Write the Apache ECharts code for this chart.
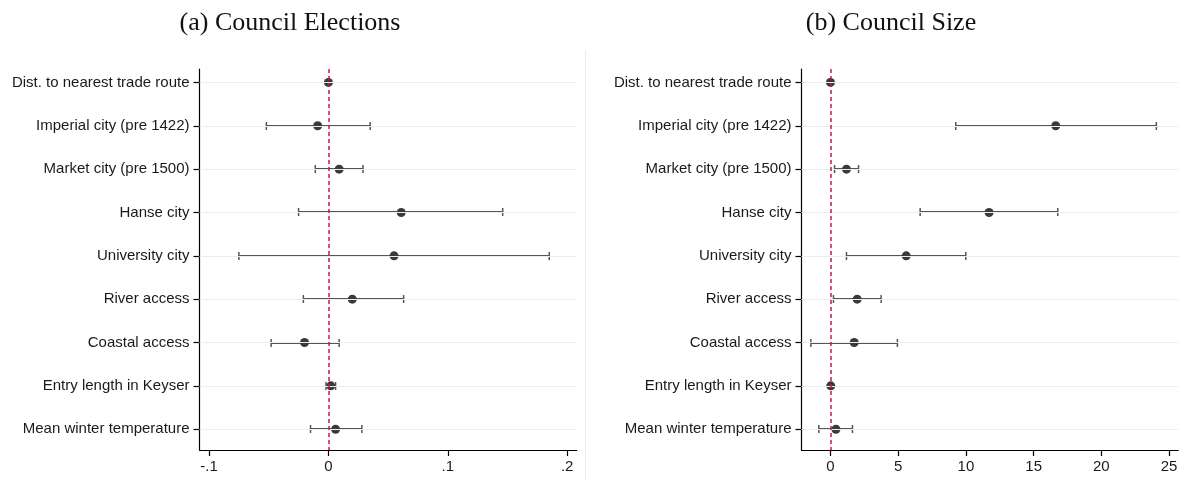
<!DOCTYPE html>
<html>
<head>
<meta charset="utf-8">
<script src="https://cdn.jsdelivr.net/npm/echarts@6/dist/echarts.min.js"></script>
<style>
  html, body { margin: 0; padding: 0; background: #fff; }
  #chart { width: 1187px; height: 480px; }
</style>
</head>
<body>
<div id="chart"></div>
<script>
// Covariates, listed top to bottom
const categories = [
  'Dist. to nearest trade route',
  'Imperial city (pre 1422)',
  'Market city (pre 1500)',
  'Hanse city',
  'University city',
  'River access',
  'Coastal access',
  'Entry length in Keyser',
  'Mean winter temperature'
];

// (a) Council Elections: point estimates and 95% CI bounds
const estA = [0.000, -0.009, 0.009, 0.061, 0.055, 0.020, -0.020, 0.002, 0.006];
const loA  = [-0.0004, -0.052, -0.011, -0.025, -0.075, -0.021, -0.048, -0.002, -0.015];
const hiA  = [0.0004, 0.035, 0.029, 0.146, 0.185, 0.063, 0.009, 0.006, 0.028];

// (b) Council Size: point estimates and 95% CI bounds
const estB = [0.00, 16.63, 1.18, 11.71, 5.59, 1.97, 1.75, 0.02, 0.40];
const loB  = [-0.03, 9.25, 0.30, 6.62, 1.18, 0.22, -1.45, -0.02, -0.86];
const hiB  = [0.03, 24.06, 2.07, 16.78, 9.99, 3.74, 4.94, 0.06, 1.62];

// Tick positions on the coefficient axes
const ticksA = [-0.1, 0, 0.1, 0.2];
const ticksB = [0, 5, 10, 15, 20, 25];

const rows = categories.map((_, i) => i + 1);

const chart = echarts.init(document.getElementById('chart'), null, { renderer: 'canvas' });

const labelFont = { fontFamily: 'Liberation Sans, Arial, sans-serif', fontSize: 15, color: '#1a1a1a' };
const axisLine = { show: true, onZero: false, lineStyle: { color: '#000', width: 1.2 } };
const axisTick = { show: true, length: 6, lineStyle: { color: '#000', width: 1.2 } };

function fmtA(v) {
  if (Math.abs(v) < 1e-9) return '0';
  return (v < 0 ? '-' : '') + String(Math.abs(v)).replace(/^0/, '');
}

function yAxisFor(gridIndex) {
  return {
    type: 'value', gridIndex, inverse: true, min: 0.69, max: 9.48,
    axisLine, splitLine: { show: false },
    axisTick: Object.assign({ customValues: rows }, axisTick),
    axisLabel: Object.assign({
      customValues: rows, margin: 10,
      formatter: v => categories[Math.round(v) - 1] || ''
    }, labelFont)
  };
}

function barStyle() {
  return { stroke: '#555', lineWidth: 2, fill: null, opacity: 1 };
}

function errorBars(lo, hi, axisIdx) {
  return {
    type: 'custom', xAxisIndex: axisIdx, yAxisIndex: axisIdx, z: 3, silent: true,
    data: lo.map((l, i) => [l, hi[i], i + 1]),
    encode: { x: [0, 1], y: 2 },
    renderItem: function (params, api) {
      const yv = api.value(2);
      const a = api.coord([api.value(0), yv]);
      const b = api.coord([api.value(1), yv]);
      const y = Math.round(a[1]);
      const h = 4;
      return {
        type: 'group',
        children: [
          { type: 'line', shape: { x1: a[0], y1: y, x2: b[0], y2: y }, style: barStyle() },
          { type: 'line', shape: { x1: a[0], y1: y - h, x2: a[0], y2: y + h }, style: Object.assign(barStyle(), { lineWidth: 1.5 }) },
          { type: 'line', shape: { x1: b[0], y1: y - h, x2: b[0], y2: y + h }, style: Object.assign(barStyle(), { lineWidth: 1.5 }) }
        ]
      };
    }
  };
}

function points(est, axisIdx) {
  return {
    type: 'scatter', xAxisIndex: axisIdx, yAxisIndex: axisIdx, z: 4, silent: true,
    symbol: 'circle', symbolSize: 9,
    itemStyle: { color: '#3a3a3a', opacity: 1 },
    data: est.map((v, i) => [v, i + 1])
  };
}

// Horizontal row guides and the dashed zero reference line
function guides(axisIdx) {
  return {
    type: 'line', xAxisIndex: axisIdx, yAxisIndex: axisIdx, z: 1, silent: true,
    data: [],
    markLine: {
      silent: true, symbol: 'none', label: { show: false },
      data: rows.map(r => ({ yAxis: r, lineStyle: { color: '#e6eff1', type: 'solid', width: 1 } }))
        .concat([{ xAxis: 0, lineStyle: { color: '#d3123f', type: [4, 3], width: 1.5, opacity: 1 } }])
    }
  };
}

const titleStyle = { fontFamily: 'Liberation Serif, Times New Roman, serif', fontSize: 26, fontWeight: 'normal', color: '#111' };

chart.setOption({
  animation: false,
  backgroundColor: '#fff',
  title: [
    { text: '(a) Council Elections', left: 285, top: 5, textAlign: 'center', textStyle: titleStyle },
    { text: '(b) Council Size', left: 886, top: 5, textAlign: 'center', textStyle: titleStyle }
  ],
  graphic: [
    { type: 'line', shape: { x1: 585.5, y1: 50, x2: 585.5, y2: 480 }, style: { stroke: '#ececec', lineWidth: 1 }, silent: true }
  ],
  grid: [
    { left: 199.5, right: 610.3, top: 69, bottom: 30 },
    { left: 801.5, right: 8.7, top: 69, bottom: 30 }
  ],
  xAxis: [
    {
      type: 'value', gridIndex: 0, min: -0.108, max: 0.208,
      axisLine, splitLine: { show: false },
      axisTick: Object.assign({ customValues: ticksA }, axisTick),
      axisLabel: Object.assign({ customValues: ticksA, margin: 9, formatter: fmtA }, labelFont)
    },
    {
      type: 'value', gridIndex: 1, min: -2.14, max: 25.68,
      axisLine, splitLine: { show: false },
      axisTick: Object.assign({ customValues: ticksB }, axisTick),
      axisLabel: Object.assign({ customValues: ticksB, margin: 9 }, labelFont)
    }
  ],
  yAxis: [yAxisFor(0), yAxisFor(1)],
  series: [
    guides(0), errorBars(loA, hiA, 0), points(estA, 0),
    guides(1), errorBars(loB, hiB, 1), points(estB, 1)
  ]
});
</script>
</body>
</html>
